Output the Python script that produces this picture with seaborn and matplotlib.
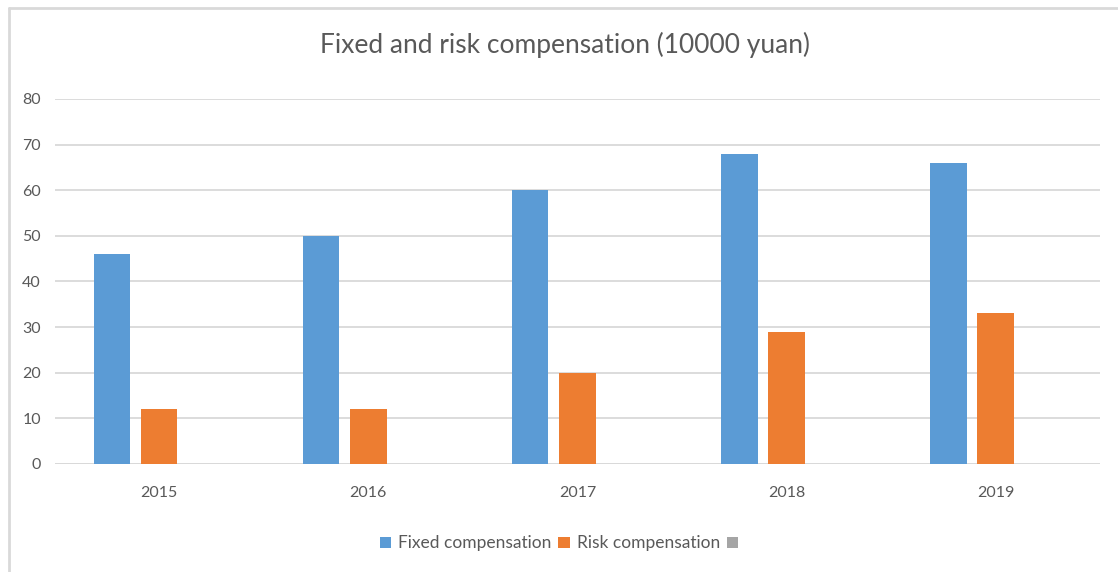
import pandas as pd
import seaborn as sns
import matplotlib.pyplot as plt
from matplotlib.lines import Line2D
from matplotlib.patches import Patch

# Data
years = ['2015', '2016', '2017', '2018', '2019']
fixed = [46, 50, 60, 68, 66]
risk = [12, 12, 20, 29, 33]
blank = [0, 0, 0, 0, 0]
series = ['Fixed compensation', 'Risk compensation', ' ']
colors = ['#5B9BD5', '#ED7D31', '#A5A5A5']

dtf = pd.DataFrame({
    'Year': years * 3,
    'Value': fixed + risk + blank,
    'Series': [series[0]] * 5 + [series[1]] * 5 + [series[2]] * 5,
})

sns.set_style('white')
plt.rcParams['font.family'] = ['Lato', 'DejaVu Sans']

fig = plt.figure(figsize=(11.18, 5.72), dpi=100)
ax = fig.add_axes([0.049, 0.189, 0.935, 0.638])

sns.barplot(data=dtf, x='Year', y='Value', hue='Series', hue_order=series,
            palette=colors, saturation=1, width=0.676, gap=0.23,
            linewidth=0, legend=False, ax=ax)

ax.set_ylim(0, 80)
ax.set_xlim(-0.5, 4.5)
ax.set_yticks(range(0, 81, 10))
ax.yaxis.grid(True, color='#D9D9D9', linewidth=1.3)
ax.set_axisbelow(True)
for s in ax.spines.values():
    s.set_visible(False)
ax.axhline(0, color='#D9D9D9', linewidth=1.3, zorder=0)
ax.set(xlabel=None, ylabel=None)
ax.tick_params(axis='both', length=0, labelsize=11.5, labelcolor='#595959')
ax.tick_params(axis='x', pad=16)
ax.tick_params(axis='y', pad=10)

fig.text(0.505, 0.921, 'Fixed and risk compensation (10000 yuan)',
         ha='center', va='center', fontsize=19, color='#595959')

handles = [Patch(facecolor=c, edgecolor='none') for c in colors]
fig.legend(handles, series, loc='center', bbox_to_anchor=(0.505, 0.05),
           ncol=3, frameon=False, fontsize=12.5, labelcolor='#595959',
           handlelength=0.65, handleheight=0.65, handletextpad=0.4,
           columnspacing=0.4)

# chart border (top and left edges visible)
fig.add_artist(Line2D([9 / 1118, 9 / 1118], [0, 1 - 8 / 572],
                      color='#D9D9D9', linewidth=2))
fig.add_artist(Line2D([9 / 1118, 1], [1 - 8 / 572, 1 - 8 / 572],
                      color='#D9D9D9', linewidth=2))

fig.savefig('out.png', dpi=100)
